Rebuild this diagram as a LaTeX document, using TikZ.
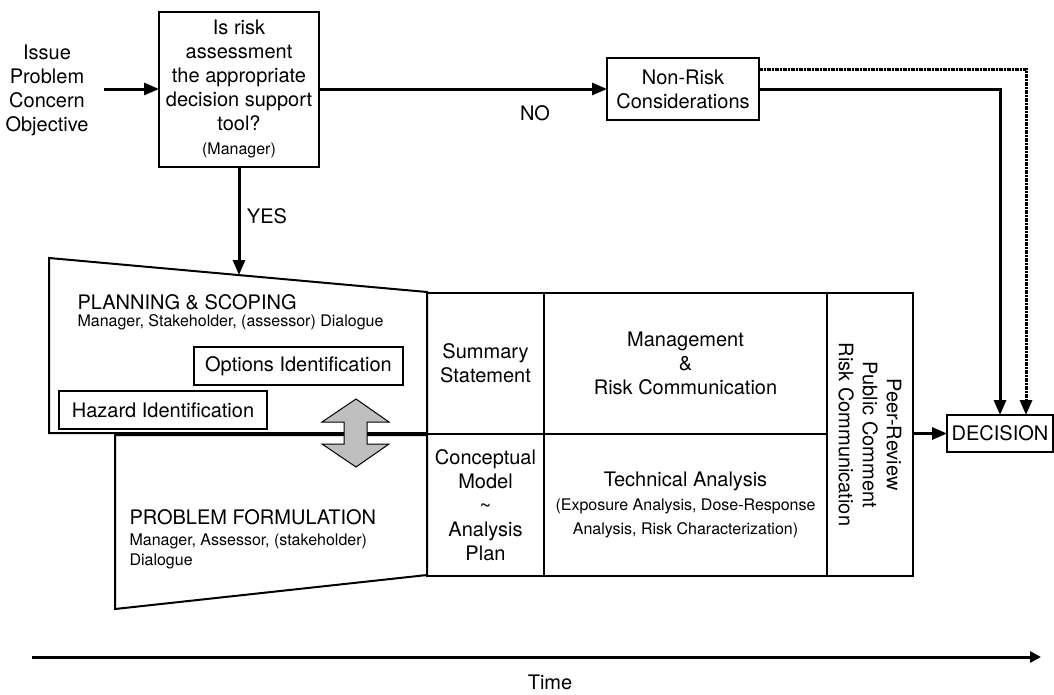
\documentclass[tikz,border=0pt]{standalone}
\usepackage{fontspec}
\setmainfont{TeX Gyre Heros}
\usetikzlibrary{arrows.meta}
\newcommand{\bigtxt}{\fontsize{20}{24}\selectfont}
\newcommand{\smalltxt}{\fontsize{16}{20}\selectfont}
\tikzset{
  box/.style={draw, line width=2pt, inner sep=0pt, outer sep=0pt, align=center},
  cell/.style={draw, line width=2pt, inner sep=0pt, outer sep=0pt, align=center},
  arr/.style={line width=3pt, -{Triangle[length=15pt,width=12pt]}},
  dotarr/.style={line width=3pt, dash pattern=on 4pt off 1pt on 2pt off 1pt, -{Triangle[length=15pt,width=12pt]}},
  timearr/.style={line width=3pt, -{Triangle[length=11pt,width=11pt]}},
  arrowshape/.style={draw, line width=1pt, fill=black!25}
}
\begin{document}
\begin{tikzpicture}[x=1pt, y=-1pt, font=\bigtxt]
  \useasboundingbox (0,0) rectangle (1054,694);
  \node[align=center] (issue) at (47,90.5) {Issue\\Problem\\Concern\\Objective};
  \node[box, minimum width=160, minimum height=155] (q) at (239,89)
    {Is risk\\assessment\\the appropriate\\decision support\\tool?\\{\smalltxt (Manager)}};
  \node[box, minimum width=152, minimum height=62] (nr) at (683,89) {Non-Risk\\Considerations};
  \node[box, minimum width=106, minimum height=37] (dec) at (1000,433.5) {DECISION};

  \draw[line width=2pt, fill=white] (49,258) -- (427,292) -- (427,433) -- (49,433) -- cycle;
  \draw[line width=2pt, fill=white] (115,435) -- (427,435) -- (427,575) -- (115,609) -- cycle;
  \coordinate (plantop) at (239,275);

  \node[cell, minimum width=117, minimum height=141] (summ) at (485.5,363.5) {Summary\\Statement};
  \node[cell, minimum width=283, minimum height=141] (mgmt) at (685.5,363.5) {Management\\\&\\Risk Communication};
  \node[cell, minimum width=117, minimum height=142] (concept) at (485.5,505) {Conceptual\\Model\\\textasciitilde\\Analysis\\Plan};
  \node[cell, minimum width=283, minimum height=142] (tech) at (685.5,505)
    {Technical Analysis\\{\smalltxt (Exposure Analysis, Dose-Response}\\{\smalltxt Analysis, Risk Characterization)}};
  \node[cell, minimum width=86, minimum height=283] (peer) at (870,434.5) {};
  \node[rotate=-90, align=center] (peertxt) at (peer) {Peer-Review\\Public Comment\\Risk Communication};

  \node[anchor=west] (plan) at (74,302) {PLANNING \& SCOPING};
  \node[anchor=west, font=\smalltxt] (plansub) at (74,322) {Manager, Stakeholder, (assessor) Dialogue};
  \node[box, minimum width=209, minimum height=38] (opt) at (298.5,366) {Options Identification};
  \node[box, minimum width=208, minimum height=38] (haz) at (163,410) {Hazard Identification};
  \node[anchor=west] (prob) at (126,517) {PROBLEM FORMULATION};
  \node[anchor=west, font=\smalltxt, align=left] (probsub) at (126,551) {Manager, Assessor, (stakeholder)\\Dialogue};

  \draw[arrowshape] (356,399) -- (389,422) -- (367,422) -- (367,444) -- (389,444) -- (356,467)
    -- (322,444) -- (344,444) -- (344,422) -- (322,422) -- cycle;

  \draw[arr] ([xshift=12pt]issue.east |- q.west) -- (q.west);
  \draw[arr] (q.east) -- (nr.west);
  \draw[arr] (q.south) -- (plantop);
  \draw[arr] (nr.east) -| (dec.north);
  \draw[dotarr] ([yshift=20pt]nr.east) -| ([xshift=26pt]dec.north);
  \draw[arr] (peer.east |- dec.west) -- (dec.west);
  \node (no) at (535,113) {NO};
  \node (yes) at (267,216) {YES};

  \coordinate (t0) at (32,657);
  \coordinate (t1) at (1041,657);
  \draw[timearr] (t0) -- (t1);
  \node (time) at (550,682) {Time};
\end{tikzpicture}
\end{document}
